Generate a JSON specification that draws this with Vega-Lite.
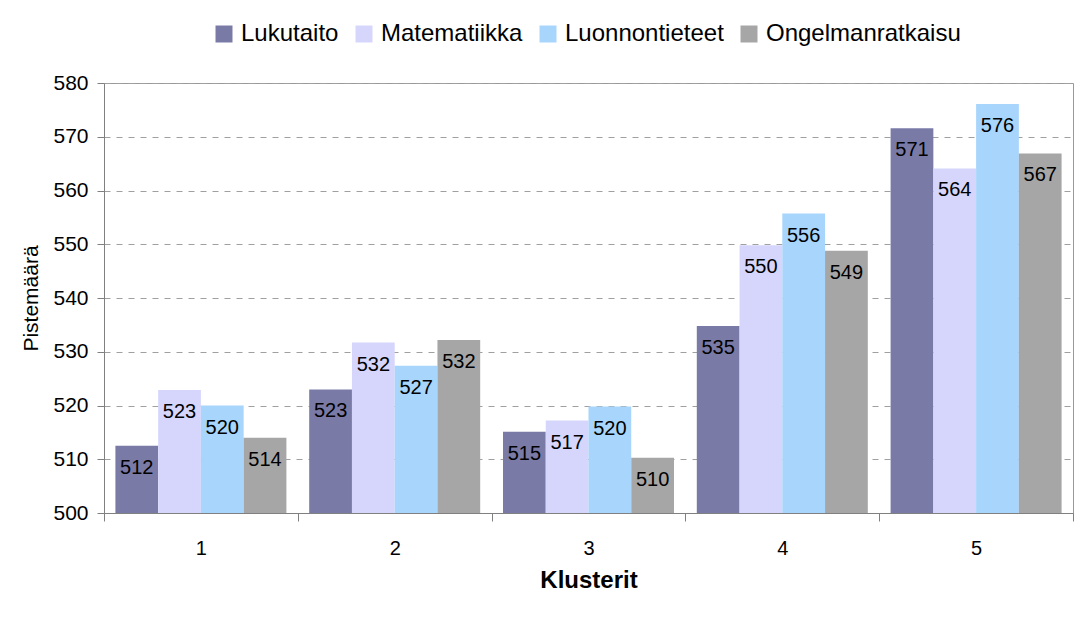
{
  "$schema": "https://vega.github.io/schema/vega-lite/v6.json",
  "width": 969,
  "height": 430,
  "autosize": {"type": "none"},
  "padding": {"left": 104, "top": 83, "right": 14, "bottom": 126},
  "background": "white",
  "data": {
    "values": [
      {"Klusteri": "1", "Osa-alue": "Lukutaito", "Pisteet": 512.5, "Teksti": "512"},
      {"Klusteri": "1", "Osa-alue": "Matematiikka", "Pisteet": 522.9, "Teksti": "523"},
      {"Klusteri": "1", "Osa-alue": "Luonnontieteet", "Pisteet": 520.0, "Teksti": "520"},
      {"Klusteri": "1", "Osa-alue": "Ongelmanratkaisu", "Pisteet": 514.0, "Teksti": "514"},
      {"Klusteri": "2", "Osa-alue": "Lukutaito", "Pisteet": 523.0, "Teksti": "523"},
      {"Klusteri": "2", "Osa-alue": "Matematiikka", "Pisteet": 531.7, "Teksti": "532"},
      {"Klusteri": "2", "Osa-alue": "Luonnontieteet", "Pisteet": 527.4, "Teksti": "527"},
      {"Klusteri": "2", "Osa-alue": "Ongelmanratkaisu", "Pisteet": 532.2, "Teksti": "532"},
      {"Klusteri": "3", "Osa-alue": "Lukutaito", "Pisteet": 515.1, "Teksti": "515"},
      {"Klusteri": "3", "Osa-alue": "Matematiikka", "Pisteet": 517.2, "Teksti": "517"},
      {"Klusteri": "3", "Osa-alue": "Luonnontieteet", "Pisteet": 519.8, "Teksti": "520"},
      {"Klusteri": "3", "Osa-alue": "Ongelmanratkaisu", "Pisteet": 510.3, "Teksti": "510"},
      {"Klusteri": "4", "Osa-alue": "Lukutaito", "Pisteet": 534.8, "Teksti": "535"},
      {"Klusteri": "4", "Osa-alue": "Matematiikka", "Pisteet": 549.8, "Teksti": "550"},
      {"Klusteri": "4", "Osa-alue": "Luonnontieteet", "Pisteet": 555.7, "Teksti": "556"},
      {"Klusteri": "4", "Osa-alue": "Ongelmanratkaisu", "Pisteet": 548.8, "Teksti": "549"},
      {"Klusteri": "5", "Osa-alue": "Lukutaito", "Pisteet": 571.6, "Teksti": "571"},
      {"Klusteri": "5", "Osa-alue": "Matematiikka", "Pisteet": 564.1, "Teksti": "564"},
      {"Klusteri": "5", "Osa-alue": "Luonnontieteet", "Pisteet": 576.1, "Teksti": "576"},
      {"Klusteri": "5", "Osa-alue": "Ongelmanratkaisu", "Pisteet": 566.9, "Teksti": "567"}
    ]
  },
  "encoding": {
    "x": {
      "field": "Klusteri",
      "type": "nominal",
      "title": "Klusterit",
      "scale": {"paddingInner": 0, "paddingOuter": 0},
      "axis": {
        "labelAngle": 0,
        "tickBand": "extent",
        "tickSize": 8,
        "tickColor": "#808080",
        "domainColor": "#808080",
        "labelFont": "Liberation Sans",
        "labelFontSize": 20,
        "labelColor": "black",
        "labelPadding": 17,
        "titleFont": "Liberation Sans",
        "titleFontSize": 24,
        "titleFontWeight": "bold",
        "titleColor": "black",
        "titlePadding": 10,
        "grid": false
      }
    },
    "xOffset": {
      "field": "Osa-alue",
      "type": "nominal",
      "sort": ["Lukutaito", "Matematiikka", "Luonnontieteet", "Ongelmanratkaisu"],
      "scale": {"paddingInner": 0, "paddingOuter": 0.2667}
    },
    "y": {
      "field": "Pisteet",
      "type": "quantitative",
      "title": "Pistemäärä",
      "scale": {"domain": [500, 580], "nice": false, "zero": false},
      "axis": {
        "values": [500, 510, 520, 530, 540, 550, 560, 570, 580],
        "format": "d",
        "tickSize": 7,
        "tickColor": "#808080",
        "domainColor": "#808080",
        "labelFont": "Liberation Sans",
        "labelFontSize": 21,
        "labelColor": "black",
        "labelPadding": 9,
        "titleFont": "Liberation Sans",
        "titleFontSize": 21,
        "titleFontWeight": "normal",
        "titleColor": "black",
        "titlePadding": 11,
        "grid": true,
        "gridColor": "#A0A0A0",
        "gridDash": [6, 6]
      }
    }
  },
  "layer": [
    {
      "mark": {"type": "bar"},
      "encoding": {
        "y2": {"datum": 500},
        "color": {
          "field": "Osa-alue",
          "type": "nominal",
          "sort": ["Lukutaito", "Matematiikka", "Luonnontieteet", "Ongelmanratkaisu"],
          "scale": {
            "domain": ["Lukutaito", "Matematiikka", "Luonnontieteet", "Ongelmanratkaisu"],
            "range": ["#7A7AA7", "#D6D6FC", "#A8D5FC", "#A6A6A6"]
          },
          "legend": {
            "title": null,
            "orient": "none",
            "direction": "horizontal",
            "legendX": 108,
            "legendY": -61,
            "symbolType": "square",
            "symbolSize": 289,
            "symbolStrokeWidth": 0,
            "symbolOpacity": 1,
            "labelFont": "Liberation Sans",
            "labelFontSize": 24,
            "labelColor": "black",
            "labelOffset": 5,
            "labelLimit": 400,
            "columnPadding": 13
          }
        }
      }
    },
    {
      "mark": {
        "type": "text",
        "baseline": "middle",
        "dy": 22,
        "font": "Liberation Sans",
        "fontSize": 20,
        "color": "black"
      },
      "encoding": {"text": {"field": "Teksti"}}
    }
  ],
  "config": {
    "view": {"stroke": "#999999", "strokeWidth": 1}
  }
}
